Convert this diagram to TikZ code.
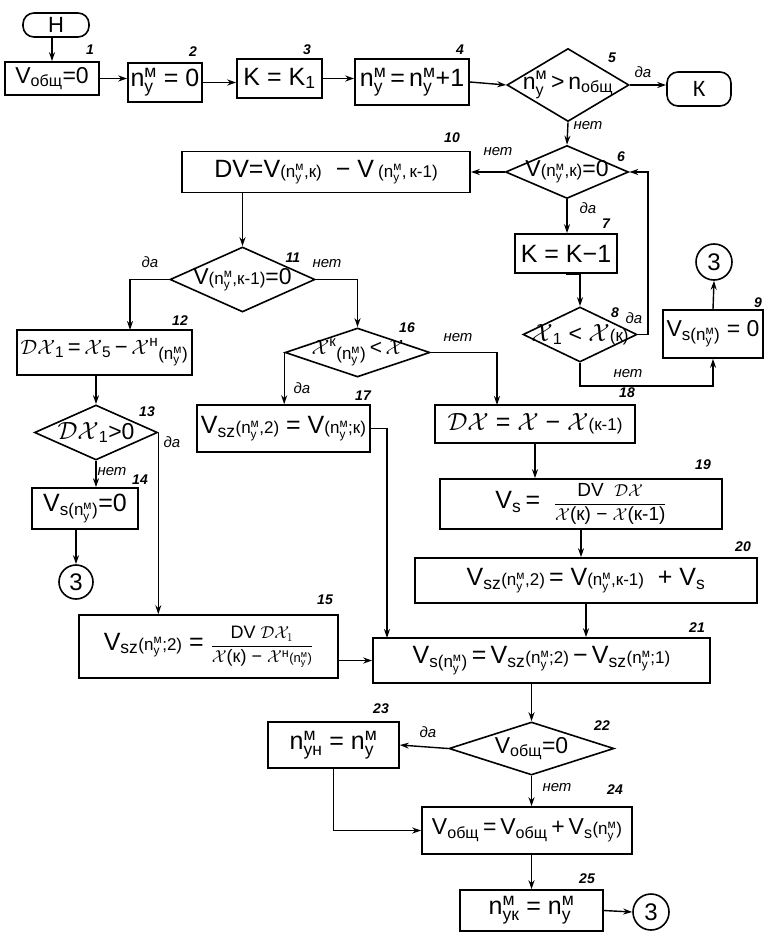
\documentclass[tikz,border=0pt]{standalone}
\usepackage{amsmath}
\usepackage{fontspec}
\setmainfont{Liberation Sans}
\usetikzlibrary{arrows.meta,shapes.geometric}
\newcommand\nm{\ensuremath{\text{n}^{\text{м}}_{\text{у}}}}
\newcommand\Tx[1]{\smash{\makebox[0pt]{\raisebox{\dimexpr-0.5\height+0.5\depth\relax}{#1}}}}
\newcommand\sm[1]{{\fontsize{17}{17}\selectfont #1}}
\newcommand\lsub[1]{\ensuremath{_{\text{\sm{#1}}}}}
\newcommand\XX{\ensuremath{\mathcal{X}}}
\newcommand\DD{\ensuremath{\mathcal{D}}}
\newcommand\ob{\ensuremath{_{\text{общ}}}}
\newcommand\sub[1]{\ensuremath{_{\text{#1}}}}
\newcommand\fs[1]{\fontsize{#1}{#1}\selectfont}
\tikzset{
  every node/.style={inner sep=0pt},
  box/.style={draw, line width=1.6pt, rectangle, font=\fontsize{25}{28}\selectfont},
  dia/.style={draw, line width=1.6pt, diamond, font=\fontsize{23}{26}\selectfont},
  term/.style={draw, line width=1.6pt, rectangle, rounded corners=11pt, font=\fontsize{22}{26}\selectfont},
  conn/.style={draw, line width=1.6pt, circle, minimum size=36pt, font=\fontsize{24}{26}\selectfont},
  num/.style={font=\fontsize{14}{14}\selectfont\itshape\bfseries},
  lab/.style={font=\fontsize{15}{15}\selectfont\itshape},
  arr/.style={-{Stealth[length=9pt,width=6pt]}, line width=1.4pt}
}
\begin{document}
\begin{tikzpicture}[x=1pt,y=-1pt]
\useasboundingbox (0,0) rectangle (765,933);
% terminals
\node[term, minimum width=66pt, minimum height=24pt] (tH) at (56,25) {\Tx{Н}};
\node[term, minimum width=64pt, minimum height=34pt] (tK) at (699,89) {\Tx{К}};
% row 1
\node[box, minimum width=94pt, minimum height=33pt, font=\fs{23}] (b1) at (52,78.5) {\Tx{V\ob=0}};
\node[box, minimum width=74pt, minimum height=39pt] (b2) at (165,82.5) {\Tx{\nm\ = 0}};
\node[box, minimum width=85pt, minimum height=39pt] (b3) at (279.5,78.5) {\Tx{K = K\sub{1}}};
\node[box, minimum width=114pt, minimum height=46pt] (b4) at (412,82) {\Tx{\nm\,=\,\nm+1}};
\node[dia, minimum width=122pt, minimum height=73pt] (d5) at (568,85) {\Tx{\nm\,>\,n\ob}};
% numbers row 1
\node[num] (n1) at (90,50) {1};
\node[num] (n2) at (193,52) {2};
\node[num] (n3) at (307,50) {3};
\node[num] (n4) at (460,50) {4};
\node[num] (n5) at (612,58) {5};
\node[lab] (l5y) at (643,72) {да};
\node[lab] (l5n) at (588,126) {нет};
% row 2
\node[dia, minimum width=123pt, minimum height=53pt] (d6) at (567,172) {\Tx{V\sm{(\nm,к)}=0}};
\node[box, minimum width=288pt, minimum height=41pt] (b10) at (326,172) {\Tx{DV=V\sm{(\nm,к)}\ \ − V\,\sm{(\nm,\,к-1)}}};
\node[num] (n10) at (452,138) {10};
\node[num] (n6) at (621,157) {6};
\node[lab] (l6n) at (498,152) {нет};
\node[lab] (l6y) at (588,208) {да};
\node[box, minimum width=102pt, minimum height=39pt] (b7) at (566,253.5) {\Tx{K = K−1}};
\node[num] (n7) at (606,224) {7};
\node[dia, minimum width=114pt, minimum height=55pt] (d8) at (580,334.5) {\Tx{\XX\sub{1} < \XX\sm{(к)}}};
\node[num] (n8) at (615,313) {8};
\node[lab] (l8y) at (634,318) {да};
\node[lab] (l8n) at (628,374) {нет};
\node[box, minimum width=100pt, minimum height=48pt, font=\fs{23}] (b9) at (713,334) {\Tx{V\lsub{s(\nm)} = 0}};
\node[num] (n9) at (758,303) {9};
\node[conn] (c3a) at (714,262) {3};
% left middle
\node[dia, minimum width=145pt, minimum height=65pt] (d11) at (242.5,279.5) {\Tx{V\sm{(\nm,к-1)}=0}};
\node[num] (n11) at (293,258) {11};
\node[lab] (l11n) at (327,264) {нет};
\node[lab] (l11y) at (150,262) {да};
\node[box, minimum width=175pt, minimum height=45pt, font=\fs{22}] (b12) at (104.5,352.5) {\Tx{\DD\XX\sub{1}\,=\,\XX\sub{5}\,−\,\XX\ensuremath{^{\text{н}}}\lsub{(\nm)}}};
\node[num] (n12) at (180,321) {12};
\node[dia, minimum width=123pt, minimum height=55pt] (d13) at (96,432.5) {\Tx{\DD\XX\sub{1}>0}};
\node[num] (n13) at (147,412) {13};
\node[lab] (l13y) at (172,442) {да};
\node[lab] (l13n) at (112,472) {нет};
\node[num] (n14) at (140,480) {14};
\node[box, minimum width=106pt, minimum height=41pt] (b14) at (85,508.5) {\Tx{V\lsub{s(\nm)}=0}};
\node[conn, minimum size=34pt] (c3b) at (76,582) {3};
\node[dia, minimum width=145pt, minimum height=49pt, font=\fs{21}] (d16) at (357.5,352.5) {\Tx{\XX\ensuremath{^{\text{к}}}\lsub{(\nm)}\,<\,\XX}};
\node[num] (n16) at (407,328) {16};
\node[lab] (l16n) at (458,338) {нет};
\node[lab] (l16y) at (302,388) {да};
\node[box, minimum width=173pt, minimum height=47pt] (b17) at (283.5,428.5) {\Tx{V\sub{sz}\sm{(\nm,2)} = V\sm{(\nm;к)}}};
\node[num] (n17) at (363,396) {17};
% right middle
\node[box, minimum width=200pt, minimum height=38pt] (b18) at (535,424) {\Tx{\DD\XX\ =\ \XX\ −\ \XX\sm{(к-1)}}};
\node[num] (n18) at (627,393) {18};
\node[box, minimum width=282pt, minimum height=50pt] (b19) at (581,504) {\Tx{V\sub{s}\,= \ {\fs{19}$\dfrac{\text{DV\ \ }\DD\XX}{\XX\text{(к) − }\XX\text{(к-1)}}$}}};
\node[num] (n19) at (703,465) {19};
\node[box, minimum width=342pt, minimum height=45pt] (b20) at (586,580.5) {\Tx{V\sub{sz}\sm{(\nm,2)}\,= V\sm{(\nm,к-1)}\ \ +\ V\sub{s}}};
\node[num] (n20) at (743,547) {20};
\node[box, minimum width=259pt, minimum height=63pt] (b15) at (208.5,646.5) {\Tx{V\sub{sz}\sm{(\nm;2)} = {\fs{18}$\dfrac{\text{DV\ }\DD\XX_1}{\XX\text{(к) − }\XX^{\text{н}}\text{\fs{13}(\nm)}}$}}};
\node[num] (n15) at (325,600) {15};
\node[box, minimum width=337pt, minimum height=45pt] (b21) at (541.5,660.5) {\Tx{V\lsub{s(\nm)}\,=\,V\sub{sz}\sm{(\nm;2)}\,−\,V\sub{sz}\sm{(\nm;1)}}};
\node[num] (n21) at (697,628) {21};
% bottom
\node[dia, minimum width=165pt, minimum height=53pt] (d22) at (531.5,748.5) {\Tx{V\ob=0}};
\node[num] (n22) at (602,726) {22};
\node[lab] (l22y) at (428,732) {да};
\node[lab] (l22n) at (557,788) {нет};
\node[box, minimum width=131pt, minimum height=46pt] (b23) at (333.5,745) {\Tx{n\ensuremath{^{\text{м}}_{\text{ун}}} = \nm}};
\node[num] (n23) at (381,709) {23};
\node[box, minimum width=210pt, minimum height=47pt, font=\fs{23}] (b24) at (527,830.5) {\Tx{V\ob\,=\,V\ob\,+\,V\sub{s}\sm{(\nm)}}};
\node[num] (n24) at (615,790) {24};
\node[box, minimum width=143pt, minimum height=41pt] (b25) at (531.5,910.5) {\Tx{n\ensuremath{^{\text{м}}_{\text{ук}}}\ =\ \nm}};
\node[num] (n25) at (587,879) {25};
\node[conn] (c3c) at (651,912) {3};
% connectors
\draw[arr] (tH.south -| b1.north) -- (b1.north);
\draw[arr] (b1.east) -- (b1.east -| b2.west);
\draw[arr] (b2.east) -- (b2.east -| b3.west);
\draw[arr] (b3.east) -- (b3.east -| b4.west);
\draw[arr] (b4.east) -- (d5.west);
\draw[arr] (d5.east) -- (d5.east -| tK.west);
\draw[arr] (d5.south) -- (d6.north);
\draw[arr] (d6.west) -- (b10.east);
\draw[arr] (d6.south) -- (d6.south |- b7.north);
\draw[arr] (b7.south) -- (b7.south -| d8.north) -- (d8.north);
\draw[arr] (d8.east) -- ++(10,0) |- (d6.east);
\draw[arr] (d8.south) -- ++(0,23) -| (b9.south);
\draw[arr] (b9.north) -- (c3a.south);
\draw[arr] (d11.north |- b10.south) -- (d11.north);
\draw[arr] (d11.west) -| (130,330);
\draw[arr] (d11.east) -| (d16.north);
\draw[arr] (d13.north |- b12.south) -- (d13.north);
\draw[arr] (d13.south) -- (d13.south |- b14.north);
\draw[arr] (b14.south -| c3b.north) -- (c3b.north);
\draw[arr] (d13.east) -- (d13.east |- b15.north);
\draw[arr] (d16.west) -- (d16.west |- b17.north);
\draw[arr] (d16.east) -| (497,405);
\draw[arr] (b17.east) -| (387,638);
\draw[arr] (b18.south) -- (b18.south |- b19.north);
\draw[arr] (b19.south) -- (b19.south |- b20.north);
\draw[arr] (b20.south) -- (b20.south |- b21.north);
\draw[arr] (b15.east |- b21.west) -- (b21.west);
\draw[arr] (d22.north |- b21.south) -- (d22.north);
\draw[arr] (d22.west) -- (b23.east);
\draw[arr] (d22.south) -- (d22.south |- b24.north);
\draw[arr] (b23.south) |- (b24.west);
\draw[arr] (b24.south -| b25.north) -- (b25.north);
\draw[arr] (b25.east) -- (c3c.west);
\end{tikzpicture}
\end{document}
